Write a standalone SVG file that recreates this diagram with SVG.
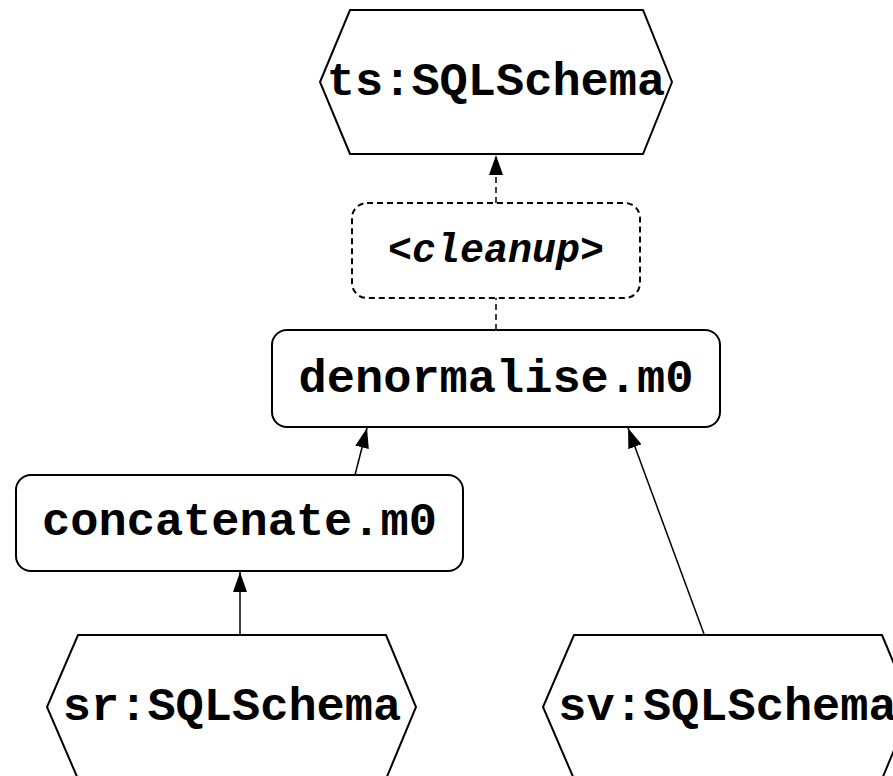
<svg xmlns="http://www.w3.org/2000/svg" width="893" height="776" viewBox="0 0 893 776">
<style>
.node{fill:#fff;stroke:#000;stroke-width:2}
.dash{stroke-dasharray:6,4}
.lbl{font-family:"Liberation Mono","Courier New",monospace;font-weight:bold;font-size:47px;text-anchor:middle;fill:#000}
.it{font-style:italic;font-size:40px}
.edge{fill:none;stroke:#000;stroke-width:1.5}
</style>
<defs>
<marker id="ah" markerUnits="userSpaceOnUse" markerWidth="22" markerHeight="16" refX="20" refY="7" orient="auto">
<path d="M0,0 L20,7 L0,14 z" fill="#000"/>
</marker>
</defs>
<rect width="893" height="776" fill="#fff"/>
<g id="edges">
<line class="edge dash" x1="496" y1="203" x2="496" y2="155" marker-end="url(#ah)"/>
<line class="edge dash" x1="496" y1="330" x2="496" y2="298"/>
<line class="edge" x1="355" y1="475" x2="367" y2="428" marker-end="url(#ah)"/>
<line class="edge" x1="704" y1="634" x2="628" y2="428" marker-end="url(#ah)"/>
<line class="edge" x1="240" y1="634" x2="240" y2="572" marker-end="url(#ah)"/>
</g>
<g id="ts">
<polygon class="node" points="350,10 643,10 672,82 643,154 350,154 320,82"/>
<text class="lbl" x="496" y="95">ts:SQLSchema</text>
</g>
<g id="cleanup">
<rect class="node dash" x="352" y="203" width="288" height="95" rx="15"/>
<text class="lbl it" x="496" y="262">&lt;cleanup&gt;</text>
</g>
<g id="denormalise">
<rect class="node" x="272" y="330" width="448" height="97" rx="15"/>
<text class="lbl" x="496" y="392">denormalise.m0</text>
</g>
<g id="concatenate">
<rect class="node" x="16" y="475" width="447" height="96" rx="15"/>
<text class="lbl" x="239.5" y="535">concatenate.m0</text>
</g>
<g id="sr">
<polygon class="node" points="78,635 386,635 416,707 386,779 78,779 47,707"/>
<text class="lbl" x="232" y="720">sr:SQLSchema</text>
</g>
<g id="sv">
<polygon class="node" points="574,635 882,635 912,707 882,779 574,779 543,707"/>
<text class="lbl" x="727.5" y="720">sv:SQLSchema</text>
</g>
</svg>
